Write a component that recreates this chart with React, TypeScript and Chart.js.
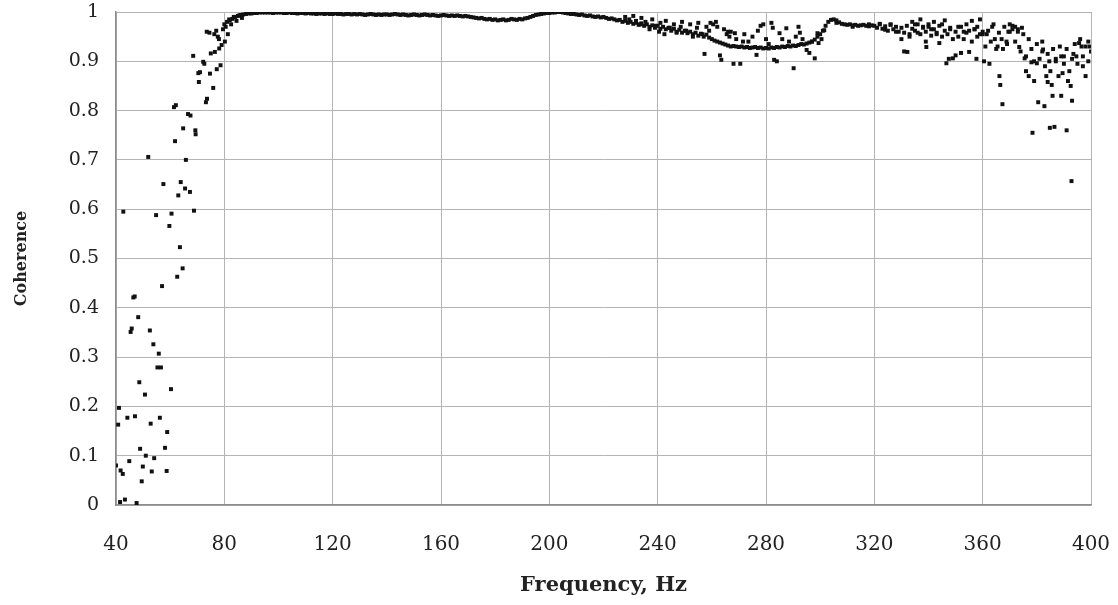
import React, { useEffect, useRef } from "react";
import { Chart, registerables } from "chart.js";

Chart.register(...registerables);

// Scattered low-frequency points (40–87 Hz)
const lowFreq = [
  40.0, 40.8, 41.1, 41.5, 41.7, 42.5, 42.7, 43.3, 44.2, 44.9,
  45.4, 45.8, 46.4, 46.9, 47.0, 47.6, 48.2, 48.6, 48.9, 49.5,
  49.9, 50.7, 51.0, 51.9, 52.5, 52.8, 53.2, 53.8, 54.1, 54.8,
  55.3, 55.8, 56.2, 56.6, 57.0, 57.5, 58.1, 58.7, 58.9, 59.7,
  60.3, 60.5, 61.4, 61.8, 62.1, 62.6, 63.0, 63.6, 63.9, 64.6,
  64.8, 65.5, 65.8, 66.6, 67.3, 67.5, 68.5, 68.8, 69.3, 69.4,
  70.4, 70.6, 71.0, 72.2, 72.6, 73.2, 73.5, 73.6, 74.5, 74.7,
  75.0, 75.9, 76.3, 76.5, 77.0, 77.2, 77.6, 78.0, 78.1, 78.6,
  79.0, 79.5, 80.2, 80.5, 81.3, 81.8, 82.5, 83.5, 84.5, 85.5, 86.5,
];
const lowCoh = [
  0.080, 0.163, 0.197, 0.006, 0.070, 0.063, 0.595, 0.011, 0.177, 0.089,
  0.351, 0.358, 0.421, 0.423, 0.180, 0.004, 0.381, 0.249, 0.114, 0.048,
  0.078, 0.224, 0.100, 0.706, 0.354, 0.165, 0.068, 0.326, 0.095, 0.588,
  0.279, 0.307, 0.177, 0.279, 0.444, 0.651, 0.116, 0.069, 0.148, 0.566,
  0.235, 0.591, 0.807, 0.738, 0.811, 0.463, 0.628, 0.523, 0.655, 0.480,
  0.764, 0.642, 0.700, 0.793, 0.635, 0.790, 0.911, 0.597, 0.760, 0.752,
  0.876, 0.858, 0.878, 0.899, 0.895, 0.817, 0.960, 0.824, 0.958, 0.875,
  0.916, 0.846, 0.955, 0.919, 0.962, 0.884, 0.950, 0.945, 0.926, 0.892,
  0.933, 0.965, 0.940, 0.970, 0.955, 0.985, 0.975, 0.990, 0.982, 0.993, 0.988,
];

// Main coherence band, one reading per Hz from 80 to 400 Hz
const BAND_START_HZ = 80;
const bandCoh = [
  0.975, 0.98, 0.983, 0.986, 0.99, 0.992, 0.994, 0.995, 0.996, 0.997,
  0.997, 0.998, 0.998, 0.999, 0.999, 0.999, 0.999, 0.999, 0.998, 0.999,
  0.999, 0.999, 0.998, 0.998, 0.999, 0.998, 0.998, 0.997, 0.998, 0.998,
  0.997, 0.998, 0.997, 0.997, 0.996, 0.997, 0.997, 0.996, 0.997, 0.996,
  0.996, 0.997, 0.996, 0.996, 0.995, 0.996, 0.996, 0.995, 0.996, 0.995,
  0.996, 0.995, 0.994, 0.995, 0.996, 0.995, 0.994, 0.995, 0.994, 0.995,
  0.995, 0.994, 0.995, 0.996, 0.995, 0.994, 0.995, 0.994, 0.993, 0.994,
  0.995, 0.994, 0.993, 0.994, 0.995, 0.994, 0.993, 0.994, 0.993, 0.992,
  0.993, 0.994, 0.993, 0.992, 0.993, 0.992, 0.993, 0.992, 0.991, 0.992,
  0.991, 0.99, 0.989, 0.988, 0.987, 0.988, 0.986, 0.985, 0.986, 0.984,
  0.985, 0.983, 0.984, 0.985, 0.983, 0.984, 0.986, 0.985, 0.984, 0.986,
  0.985, 0.987, 0.988, 0.99, 0.992, 0.994, 0.995, 0.996, 0.997, 0.998,
  0.998, 0.999, 0.999, 1.0, 1.0, 0.999, 0.998, 0.997, 0.996, 0.996,
  0.995, 0.994, 0.995, 0.993, 0.992, 0.993, 0.991, 0.99, 0.991, 0.989,
  0.99, 0.988, 0.986, 0.987, 0.985, 0.983, 0.984, 0.98, 0.982, 0.978,
  0.98, 0.976, 0.978, 0.974, 0.977, 0.972, 0.975, 0.97, 0.973, 0.968,
  0.972, 0.966, 0.97, 0.965, 0.968, 0.962, 0.966, 0.96, 0.964, 0.958,
  0.962, 0.957, 0.96, 0.955, 0.958, 0.952, 0.956, 0.95, 0.954, 0.948,
  0.945, 0.942, 0.94, 0.938, 0.936, 0.934, 0.932, 0.93, 0.931, 0.93,
  0.929, 0.93, 0.928, 0.929, 0.927, 0.928, 0.929, 0.927, 0.928, 0.926,
  0.927, 0.926, 0.928, 0.927, 0.929, 0.928, 0.93, 0.929, 0.931, 0.93,
  0.932, 0.931, 0.933, 0.935, 0.934, 0.936, 0.938, 0.94, 0.944, 0.95,
  0.955, 0.962, 0.972, 0.98, 0.984, 0.985, 0.983, 0.979, 0.976, 0.975,
  0.974, 0.975, 0.973, 0.974, 0.972, 0.973, 0.974, 0.972, 0.971, 0.973,
  0.972, 0.968, 0.975, 0.966, 0.971, 0.962, 0.974, 0.965, 0.97, 0.96,
  0.968, 0.958, 0.972, 0.955, 0.966, 0.962, 0.975, 0.955, 0.968, 0.96,
  0.97, 0.952, 0.965, 0.958, 0.972, 0.95, 0.962, 0.955, 0.968, 0.945,
  0.96, 0.95, 0.97, 0.945, 0.958, 0.962, 0.94, 0.965, 0.95, 0.955,
  0.955, 0.93, 0.962, 0.94, 0.975, 0.925, 0.958, 0.945, 0.97, 0.935,
  0.96, 0.972, 0.94, 0.965, 0.92, 0.955, 0.91, 0.945, 0.925, 0.9,
  0.935, 0.905, 0.92, 0.89, 0.915, 0.88, 0.925, 0.9, 0.87, 0.91,
  0.895, 0.925, 0.88, 0.905, 0.935, 0.895, 0.945, 0.91, 0.93, 0.9,
  0.92,
];

// Scattered points off the main band (228–400 Hz)
const scatterFreq = [
  228, 229.5, 231, 232, 233.5, 234, 235.5, 237, 238, 239,
  240.5, 241, 242.5, 243, 244.5, 246, 247, 248.5, 249, 250.5,
  252, 253, 254.5, 255, 256.5, 257.3, 258, 259, 259.5, 260.5,
  261.5, 262, 263, 263.5, 264.5, 265.5, 266, 266.5, 267, 268,
  268.5, 269, 270.5, 271.5, 272, 273.5, 275, 276.5, 277, 278,
  279, 280, 281, 282, 282.5, 283, 284, 285, 286, 287.5,
  288.5, 290.2, 291, 292, 292.5, 293.5, 295, 296, 297, 298,
  299, 299.4, 300.5, 301.5, 306, 312, 318, 322, 324, 326,
  328, 330, 331, 332.2, 333, 334, 335, 336, 337, 338,
  339.2, 339, 340, 341, 342, 343, 344, 345, 346, 346.6,
  347.5, 348, 349, 350, 351, 352, 353, 354, 355, 356,
  357, 357.7, 358, 359, 360, 360.5, 361.5, 362.5, 363.5, 364.5,
  365.5, 366.2, 366.5, 367.3, 367.5, 368.8, 369.5, 370, 371, 372,
  373, 373.5, 374.5, 375.5, 376, 377, 378, 378.4, 379, 380,
  380.5, 382, 382.3, 382.8, 383.5, 384, 384.6, 384.8, 385.5, 385.8,
  386.5, 387, 388.5, 389, 389.5, 390, 391, 391.5, 392.5, 392.8,
  393, 393.5, 394.6, 395.6, 396.5, 397, 398, 399, 399.5,
];
const scatterCoh = [
  0.99, 0.985, 0.992, 0.982, 0.975, 0.988, 0.98, 0.965, 0.985, 0.972,
  0.96, 0.978, 0.955, 0.982, 0.968, 0.975, 0.958, 0.97, 0.98, 0.962,
  0.975, 0.95, 0.968, 0.978, 0.955, 0.915, 0.97, 0.962, 0.978, 0.975,
  0.98, 0.97, 0.912, 0.903, 0.965, 0.955, 0.96, 0.95, 0.96, 0.895,
  0.957, 0.945, 0.895, 0.94, 0.955, 0.94, 0.95, 0.913, 0.962, 0.972,
  0.975, 0.945, 0.935, 0.978, 0.968, 0.903, 0.9, 0.957, 0.945, 0.967,
  0.94, 0.886, 0.95, 0.97, 0.958, 0.945, 0.923, 0.917, 0.94, 0.906,
  0.957, 0.937, 0.945, 0.963, 0.978, 0.97, 0.975, 0.976, 0.964, 0.975,
  0.96, 0.945, 0.92, 0.919, 0.95, 0.98, 0.975, 0.958, 0.985, 0.97,
  0.929, 0.94, 0.975, 0.965, 0.98, 0.955, 0.937, 0.975, 0.983, 0.896,
  0.905, 0.965, 0.906, 0.912, 0.97, 0.917, 0.96, 0.975, 0.919, 0.982,
  0.965, 0.905, 0.97, 0.985, 0.96, 0.9, 0.955, 0.895, 0.97, 0.945,
  0.93, 0.87, 0.852, 0.813, 0.925, 0.94, 0.96, 0.975, 0.965, 0.97,
  0.96, 0.929, 0.968, 0.906, 0.88, 0.87, 0.898, 0.755, 0.86, 0.896,
  0.817, 0.94, 0.924, 0.809, 0.87, 0.858, 0.9, 0.765, 0.852, 0.83,
  0.767, 0.905, 0.93, 0.83, 0.876, 0.91, 0.76, 0.86, 0.85, 0.657,
  0.82, 0.915, 0.91, 0.937, 0.93, 0.89, 0.87, 0.94, 0.93,
];

const xTicks = [40, 80, 120, 160, 200, 240, 280, 320, 360, 400];
const yTicks = [0, 0.1, 0.2, 0.3, 0.4, 0.5, 0.6, 0.7, 0.8, 0.9, 1];

const FONT = '"DejaVu Serif", "Liberation Serif", serif';

export default function App() {
  const ref = useRef<HTMLCanvasElement | null>(null);

  useEffect(() => {
    if (!ref.current) return;
    const pts: { x: number; y: number }[] = [];
    lowFreq.forEach((f, i) => pts.push({ x: f, y: lowCoh[i] }));
    bandCoh.forEach((c, i) => pts.push({ x: BAND_START_HZ + i, y: c }));
    scatterFreq.forEach((f, i) => pts.push({ x: f, y: scatterCoh[i] }));

    const chart = new Chart(ref.current, {
      type: "scatter",
      data: {
        datasets: [
          {
            data: pts,
            pointStyle: "rect",
            pointRadius: 2.8,
            pointBackgroundColor: "#111",
            pointBorderWidth: 0,
            showLine: false,
          },
        ],
      },
      options: {
        animation: false,
        responsive: false,
        maintainAspectRatio: false,
        layout: { padding: { left: 0, right: 27, top: 12, bottom: 0 } },
        plugins: { legend: { display: false }, tooltip: { enabled: false } },
        scales: {
          x: {
            type: "linear",
            min: 40,
            max: 400,
            afterBuildTicks: (axis: any) => {
              axis.ticks = xTicks.map((v) => ({ value: v }));
            },
            afterFit: (axis: any) => {
              axis.height = 100;
              axis.paddingLeft = 0;
              axis.paddingRight = 0;
            },
            ticks: {
              color: "#222",
              font: { family: FONT, size: 20 },
              padding: 28,
              maxRotation: 0,
              callback: (v: any) => String(v),
            },
            grid: { color: "#b4b4b4", lineWidth: 1, drawTicks: false },
            border: { color: "#8c8c8c", width: 1.5 },
            title: {
              display: true,
              text: "Frequency, Hz",
              color: "#222",
              font: { family: FONT, size: 21, weight: "bold" },
              padding: { top: 0, bottom: 7 },
            },
          },
          y: {
            type: "linear",
            min: 0,
            max: 1,
            afterBuildTicks: (axis: any) => {
              axis.ticks = yTicks.map((v) => ({ value: v }));
            },
            afterFit: (axis: any) => {
              axis.width = 116;
              axis.paddingTop = 0;
              axis.paddingBottom = 0;
            },
            ticks: {
              color: "#222",
              font: { family: FONT, size: 19 },
              padding: 17,
              callback: (v: any) => String(Number(Number(v).toFixed(1))),
            },
            grid: { color: "#b4b4b4", lineWidth: 1, drawTicks: false },
            border: { color: "#8c8c8c", width: 1.5 },
            title: {
              display: true,
              text: "Coherence",
              color: "#222",
              font: { family: FONT, size: 16, weight: "bold" },
              padding: { top: 12, bottom: 0 },
            },
          },
        },
      },
    });
    return () => chart.destroy();
  }, []);

  return (
    <div style={{ position: "fixed", left: 0, top: 0, width: 1118, height: 605, background: "#fff" }}>
      <canvas ref={ref} width={1118} height={605} style={{ display: "block", width: 1118, height: 605 }} />
    </div>
  );
}
